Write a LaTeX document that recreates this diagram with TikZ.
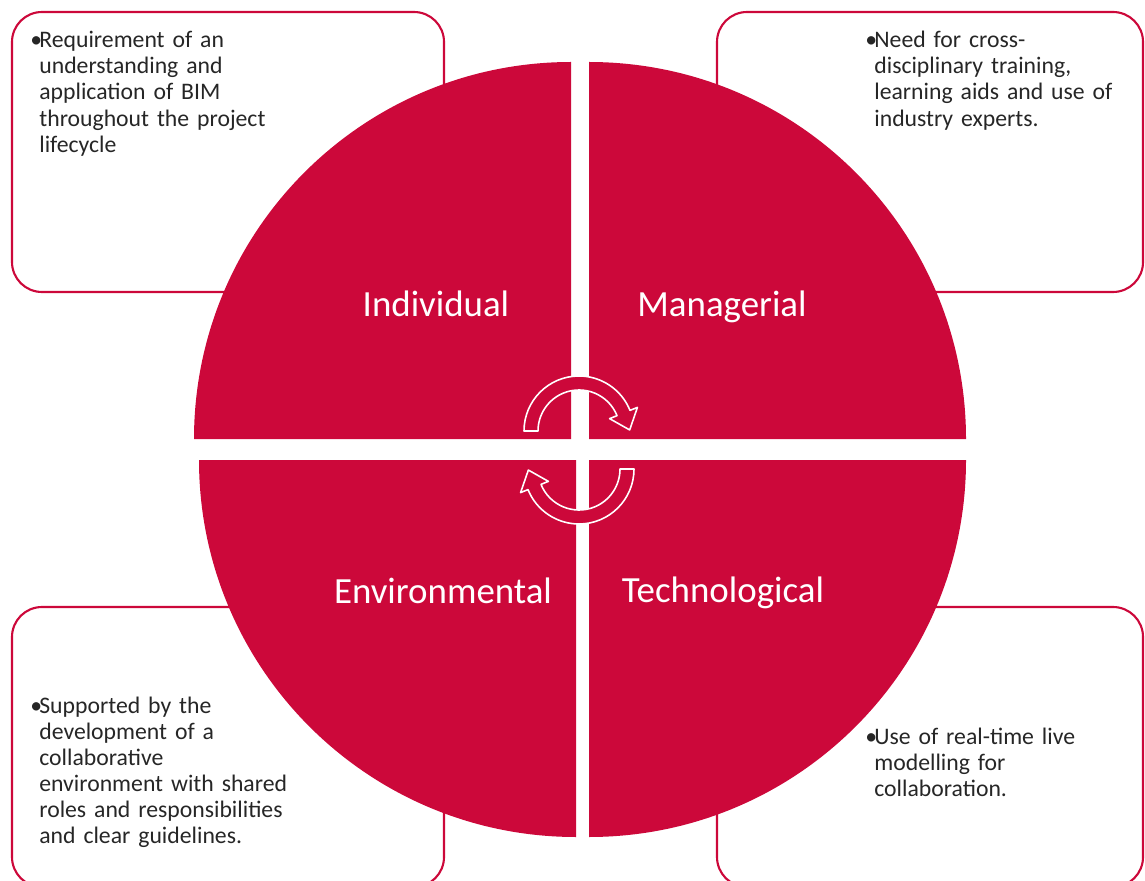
\documentclass[tikz,border=0pt]{standalone}
\usepackage{fontspec}
\setmainfont{Carlito}
\usetikzlibrary{calc}
\definecolor{bimred}{RGB}{204,8,58}

\begin{document}
\begin{tikzpicture}[x=0.02cm,y=-0.02cm]
\tikzstyle{bx} = [draw=bimred,line width=1.2pt,rounded corners=0.6cm]
\tikzstyle{qd} = [fill=bimred]
\tikzstyle{lb} = [text=white,font=\fontsize{21}{25}\selectfont,anchor=base,inner sep=0]
\tikzstyle{tx} = [text=black!85,font=\fontsize{13.5}{14.8}\selectfont,text width=6.5cm,align=left,anchor=base west,inner sep=0]
\tikzstyle{bl} = [text=black!85,font=\fontsize{13.5}{14.8}\selectfont,anchor=base west,inner sep=0]
\tikzstyle{ar} = [draw=white,line width=0.9pt,fill=bimred,line join=round]
\useasboundingbox (0,0) rectangle (1145,881);
% boxes behind the circle
\draw[bx] (12,12) rectangle (444,292);
\draw[bx] (717,12) rectangle (1143,292);
\draw[bx] (12,607) rectangle (444,887);
\draw[bx] (717,607) rectangle (1143,887);
% four quarters
\fill[qd] (571,439) -- ++(180:377) arc[start angle=180,end angle=270,radius=377] -- cycle;
\fill[qd] (589,439) -- ++(270:377) arc[start angle=270,end angle=360,radius=377] -- cycle;
\fill[qd] (589,460) -- ++(0:377) arc[start angle=0,end angle=90,radius=377] -- cycle;
\fill[qd] (576,460) -- ++(90:377) arc[start angle=90,end angle=180,radius=377] -- cycle;
\node[lb] (indiv) at (436,317) {Individual};
\node[lb] (manag) at (722,317) {Managerial};
\node[lb] (envir) at (443,603) {Environmental};
\node[lb] (techn) at (723,602) {Technological};
% cycle arrows
\coordinate (c1) at (579,431);
\coordinate (c2) at (579,469);
\draw[ar] ($(c1)+(180:55)$) arc[start angle=180,end angle=338,radius=55]
  -- ($(c1)+(338:63)$) -- ($(c1)+(338:48)+(70:18)$) -- ($(c1)+(338:33)$)
  -- ($(c1)+(338:41)$) arc[start angle=338,end angle=180,radius=41] -- cycle;
\draw[ar] ($(c2)+(0:55)$) arc[start angle=0,end angle=158,radius=55]
  -- ($(c2)+(158:63)$) -- ($(c2)+(158:48)+(250:18)$) -- ($(c2)+(158:33)$)
  -- ($(c2)+(158:41)$) arc[start angle=158,end angle=0,radius=41] -- cycle;
% notes
\node[bl] (b1) at (30,48) {\textbullet};
\node[tx] (n1) at (39,48) {Requirement of an\\understanding and\\application of BIM\\throughout the project\\lifecycle};
\node[bl] (b2) at (865,48) {\textbullet};
\node[tx] (n2) at (874,48) {Need for cross-\\disciplinary training,\\learning aids and use of\\industry experts.};
\node[bl] (b3) at (30,713) {\textbullet};
\node[tx] (n3) at (39,713) {Supported by the\\development of a\\collaborative\\environment with shared\\roles and responsibilities\\and clear guidelines.};
\node[bl] (b4) at (865,744) {\textbullet};
\node[tx] (n4) at (874,744) {Use of real-time live\\modelling for\\collaboration.};
\end{tikzpicture}
\end{document}
